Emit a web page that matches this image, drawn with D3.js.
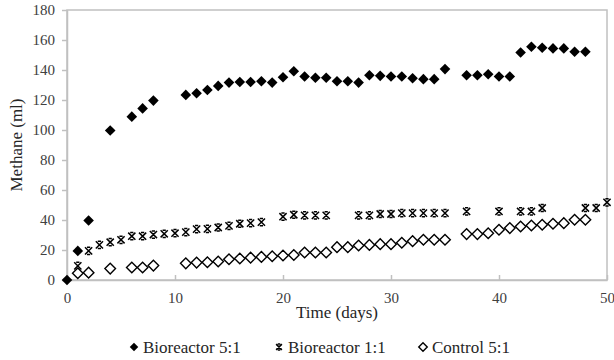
<!DOCTYPE html>
<html>
<head>
<meta charset="utf-8">
<script src="https://cdn.jsdelivr.net/npm/d3@7"></script>
<style>
  body { margin: 0; background: #fff; }
</style>
</head>
<body>
<div id="chart-container"></div>
<script>
// days and methane (ml)
const bio51Days = [0, 1, 2, 4, 6, 7, 8, 11, 12, 13, 14, 15, 16, 17, 18, 19, 20, 21, 22, 23, 24, 25, 26, 27, 28, 29, 30, 31, 32, 33, 34, 35, 37, 38, 39, 40, 41, 42, 43, 44, 45, 46, 47, 48];
const bio51Values = [0, 19.4, 39.7, 99.7, 108.9, 114.4, 119.6, 123.4, 124.5, 126.7, 129.4, 131.6, 132, 132, 132.5, 131.6, 135.2, 139.2, 135.7, 134.8, 134.8, 132.5, 132.5, 131.6, 136.5, 136.1, 135.7, 135.7, 134.5, 133.9, 133.9, 140.6, 136.5, 136.5, 137.2, 135.7, 135.7, 151.7, 155.5, 154.8, 154.4, 154.4, 152.2, 152.2];

const bio11Days = [1, 2, 3, 4, 5, 6, 7, 8, 9, 10, 11, 12, 13, 14, 15, 16, 17, 18, 20, 21, 22, 23, 24, 27, 28, 29, 30, 31, 32, 33, 34, 35, 37, 40, 42, 43, 44, 48, 49, 50];
const bio11Values = [9.4, 19.4, 23.4, 25.2, 26.8, 29.2, 29.2, 30.3, 30.8, 31.2, 31.9, 33.9, 34.1, 35.0, 36.1, 37.5, 37.9, 38.6, 42.2, 43.5, 43.1, 43.1, 43.1, 43.1, 43.1, 44, 44, 44.6, 44.6, 44.6, 44.6, 44.6, 45.7, 45.7, 45.7, 45.7, 48, 48, 48, 51.8];

const ctrlDays = [1, 2, 4, 6, 7, 8, 11, 12, 13, 14, 15, 16, 17, 18, 19, 20, 21, 22, 23, 24, 25, 26, 27, 28, 29, 30, 31, 32, 33, 34, 35, 37, 38, 39, 40, 41, 42, 43, 44, 45, 46, 47, 48];
const ctrlValues = [4.5, 4.9, 7.6, 8.3, 8.3, 9.6, 11.1, 11.6, 11.8, 12.3, 13.8, 14.3, 14.9, 15.4, 15.8, 16.3, 16.7, 18.3, 18.3, 18.3, 21.9, 21.9, 23.0, 23.4, 23.9, 23.9, 24.8, 25.9, 26.8, 26.8, 26.8, 30.6, 30.6, 31.2, 33.5, 34.6, 35.7, 36.3, 36.8, 37.5, 37.9, 40.2, 40.2];

const xTicks = [0, 10, 20, 30, 40, 50];
const yTicks = [0, 20, 40, 60, 80, 100, 120, 140, 160, 180];
const seriesNames = ["Bioreactor 5:1", "Bioreactor 1:1", "Control 5:1"];

const W = 614, H = 360;
const margin = { top: 10, right: 7, bottom: 80, left: 67 };
const width = W - margin.left - margin.right;
const height = H - margin.top - margin.bottom;
const axisColor = "#c0c0c0";
const serif = "'Liberation Serif'";

const svg = d3.select("#chart-container").append("svg")
  .attr("width", W).attr("height", H);
const g = svg.append("g").attr("transform", `translate(${margin.left},${margin.top})`);

const x = d3.scaleLinear().domain([0, 50]).range([0, width]);
const y = d3.scaleLinear().domain([0, 180]).range([height, 0]);

// plot frame
g.append("rect").attr("width", width).attr("height", height)
  .attr("fill", "none").attr("stroke", axisColor).attr("stroke-width", 1.5);

const xAxis = g.append("g").attr("transform", `translate(0,${height})`)
  .call(d3.axisBottom(x).tickValues(xTicks).tickSizeInner(-5).tickSizeOuter(0).tickPadding(12));
const yAxis = g.append("g")
  .call(d3.axisLeft(y).tickValues(yTicks).tickSizeInner(5).tickSizeOuter(0).tickPadding(7));

[xAxis, yAxis].forEach(a => {
  a.attr("font-family", null).attr("font-size", null);
  a.select(".domain").attr("stroke", axisColor).attr("stroke-width", 1.5);
  a.selectAll(".tick line").attr("stroke", axisColor).attr("stroke-width", 1.5);
  a.selectAll("text").style("font-family", serif)
    .style("font-size", "15px").attr("fill", "#404040");
});

svg.append("text").attr("x", margin.left + width / 2).attr("y", 318)
  .attr("text-anchor", "middle").attr("fill", "#262626")
  .style("font-family", serif).style("font-size", "17px").text("Time (days)");
svg.append("text").attr("transform", `translate(22,${margin.top + height / 2}) rotate(-90)`)
  .attr("text-anchor", "middle").attr("fill", "#262626")
  .style("font-family", serif).style("font-size", "17px").text("Methane (ml)");

// marker shapes
const diamond = r => `M0,${-r}L${r},0L0,${r}L${-r},0Z`;
const star = r => `M${-r},${-r}L${r},${r}M${r},${-r}L${-r},${r}M${-r * 0.45},${-r}H${r * 0.45}M${-r * 0.45},${r}H${r * 0.45}`;

function drawFilled(sel, s) { sel.append("path").attr("d", diamond(5.3 * s)).attr("fill", "#000"); }
function drawStar(sel, s) {
  sel.append("path").attr("d", star(3.6 * s)).attr("fill", "none")
    .attr("stroke", "#000").attr("stroke-width", 1.5);
}
function drawOpen(sel, s) {
  sel.append("path").attr("d", diamond(5.3 * s)).attr("fill", "#fff")
    .attr("stroke", "#000").attr("stroke-width", 1.4);
}

const series = [
  { days: bio51Days, values: bio51Values, draw: drawFilled },
  { days: bio11Days, values: bio11Values, draw: drawStar },
  { days: ctrlDays, values: ctrlValues, draw: drawOpen }
];

series.forEach(s => {
  const pts = s.days.map((d, i) => ({ x: d, y: s.values[i] }));
  g.append("g").selectAll("g").data(pts).join("g")
    .attr("transform", d => `translate(${x(d.x)},${y(d.y)})`)
    .each(function () { s.draw(d3.select(this), 1); });
});

// legend
const legendX = [134, 279, 423];
const legend = svg.append("g");
seriesNames.forEach((name, i) => {
  const item = legend.append("g").attr("transform", `translate(${legendX[i]},347)`);
  series[i].draw(item, 0.8);
  item.append("text").attr("x", 9).attr("y", 6).attr("fill", "#262626")
    .style("font-family", serif).style("font-size", "17px").text(name);
});
</script>
</body>
</html>
